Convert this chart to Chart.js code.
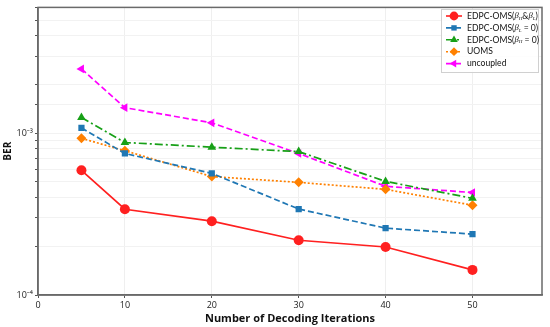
<!DOCTYPE html>
<html>
<head>
<meta charset="utf-8">
<script src="https://cdn.jsdelivr.net/npm/chart.js@4/dist/chart.umd.min.js"></script>
<style>
  html, body { margin: 0; padding: 0; background: #fff; }
  #wrap { width: 550px; height: 327px; }
</style>
</head>
<body>
<div id="wrap"><canvas id="berChart"></canvas></div>
<script>
// iterations on the x axis
const iterations = [5, 10, 20, 30, 40, 50];

// BER values
const berBoth = [5.9e-4, 3.39e-4, 2.86e-4, 2.18e-4, 1.98e-4, 1.43e-4];
const berL0 = [1.08e-3, 7.5e-4, 5.65e-4, 3.4e-4, 2.59e-4, 2.38e-4];
const berH0 = [1.25e-3, 8.77e-4, 8.2e-4, 7.7e-4, 5.04e-4, 3.96e-4];
const berUoms = [9.3e-4, 7.8e-4, 5.4e-4, 4.97e-4, 4.5e-4, 3.59e-4];
const berUncoupled = [2.5e-3, 1.44e-3, 1.16e-3, 7.5e-4, 4.7e-4, 4.3e-4];

// legend labels, split into pieces (n = normal, i = italic, s = subscript)
const legendLabels = [
  [['n', 'EDPC-OMS('], ['i', 'β'], ['s', 'H'], ['n', '&'], ['i', 'β'], ['s', 'L'], ['n', ')']],
  [['n', 'EDPC-OMS('], ['i', 'β'], ['s', 'L'], ['n', ' = 0)']],
  [['n', 'EDPC-OMS('], ['i', 'β'], ['s', 'H'], ['n', ' = 0)']],
  [['n', 'UOMS']],
  [['n', 'uncoupled']]
];

const FONT = '"Open Sans", "Noto Sans", sans-serif';
const sup = { '-': '⁻', '0': '⁰', '1': '¹', '2': '²', '3': '³', '4': '⁴', '5': '⁵', '6': '⁶', '7': '⁷', '8': '⁸', '9': '⁹' };

function pts(ys) {
  return iterations.map((x, i) => ({ x: x, y: ys[i] }));
}

function makeSet(label, ys, color, style, dash, rot) {
  return {
    label: label,
    data: pts(ys),
    borderColor: color,
    backgroundColor: color,
    borderWidth: 1.7,
    borderDash: dash,
    pointStyle: style,
    pointRotation: rot || 0,
    pointRadius: style === 'rect' ? 4.4 : 5,
    pointBorderWidth: 0,
    tension: 0
  };
}

const datasets = [
  makeSet('both', berBoth, '#ff2020', 'circle', []),
  makeSet('L0', berL0, '#1f77b4', 'rect', [6, 3]),
  makeSet('H0', berH0, '#17a017', 'triangle', [8, 3, 2, 3]),
  makeSet('UOMS', berUoms, '#ff8000', 'rectRot', [2, 2]),
  makeSet('uncoupled', berUncoupled, '#ff00ff', 'triangle', [6, 3], -90)
];

// frame on top/right plus legend box inside the plot
const framePlugin = {
  id: 'frame',
  afterDraw(chart) {
    const ctx = chart.ctx;
    const a = chart.chartArea;
    ctx.save();
    ctx.strokeStyle = '#6a6a6a';
    ctx.lineWidth = 1.5;
    ctx.strokeRect(a.left, a.top, a.right - a.left, a.bottom - a.top);

    // legend
    const bx = 441, by = 9, bw = 97, bh = 63;
    ctx.fillStyle = 'rgba(255,255,255,0.85)';
    ctx.fillRect(bx, by, bw, bh);
    ctx.strokeStyle = '#d0d0d0';
    ctx.lineWidth = 1;
    ctx.strokeRect(bx + 0.5, by + 0.5, bw, bh);

    chart.data.datasets.forEach((ds, i) => {
      const cy = 16 + i * 11.9;
      ctx.strokeStyle = ds.borderColor;
      ctx.lineWidth = 1.6;
      ctx.setLineDash(ds.borderDash);
      ctx.beginPath();
      ctx.moveTo(446, cy);
      ctx.lineTo(462, cy);
      ctx.stroke();
      ctx.setLineDash([]);
      ctx.fillStyle = ds.borderColor;
      Chart.helpers.drawPoint(ctx, {
        pointStyle: ds.pointStyle,
        rotation: ds.pointRotation,
        radius: ds.pointRadius - 0.6,
        borderWidth: 0
      }, 454, cy);

      let tx = 467;
      ctx.fillStyle = '#111';
      ctx.textBaseline = 'middle';
      ctx.textAlign = 'left';
      legendLabels[i].forEach(seg => {
        let font = '8.6px Lato, sans-serif';
        let dy = 0;
        if (seg[0] === 'i') font = 'italic 8.6px "Liberation Serif", serif';
        if (seg[0] === 's') { font = 'italic 5px "Liberation Serif", serif'; dy = 2.3; }
        ctx.font = font;
        ctx.fillText(seg[1], tx, cy + dy);
        tx += ctx.measureText(seg[1]).width;
      });
    });
    ctx.restore();
  }
};

new Chart(document.getElementById('berChart'), {
  type: 'line',
  data: { datasets: datasets },
  options: {
    responsive: true,
    maintainAspectRatio: false,
    animation: false,
    layout: { padding: { top: 6, right: 8, left: 2, bottom: 0 } },
    plugins: {
      legend: { display: false },
      tooltip: { enabled: false }
    },
    scales: {
      x: {
        type: 'linear',
        min: 0,
        max: 58,
        afterBuildTicks: (s) => { s.ticks = s.ticks.filter(t => t.value % 10 === 0); },
        afterFit: (s) => { s.height = 32; },
        ticks: { stepSize: 10, color: '#222', font: { family: FONT, size: 9 }, padding: 2, maxRotation: 0 },
        grid: { color: '#efefef', tickColor: '#555', tickLength: 3, drawTicks: true },
        border: { color: '#6a6a6a', width: 1.5 },
        title: { display: true, text: 'Number of Decoding Iterations', color: '#111', font: { family: FONT, size: 11, weight: 'bold' }, padding: { top: 0, bottom: 2 } }
      },
      y: {
        type: 'logarithmic',
        min: 1e-4,
        max: 6e-3,
        afterFit: (s) => { s.width = 36; },
        ticks: {
          autoSkip: false,
          color: '#222',
          font: { family: FONT, size: 9 },
          padding: 2,
          callback: (v) => {
            const e = Math.log10(v);
            if (Math.abs(e - Math.round(e)) > 1e-6) return '';
            return '10' + String(Math.round(e)).split('').map(c => sup[c]).join('');
          }
        },
        grid: { color: '#f2f2f2', tickColor: '#555', tickLength: 3 },
        border: { color: '#6a6a6a', width: 1.5 },
        title: { display: true, text: 'BER', color: '#111', font: { family: FONT, size: 10, weight: 'bold' }, padding: { top: 0, bottom: 2 } }
      }
    }
  },
  plugins: [framePlugin]
});
</script>
</body>
</html>
